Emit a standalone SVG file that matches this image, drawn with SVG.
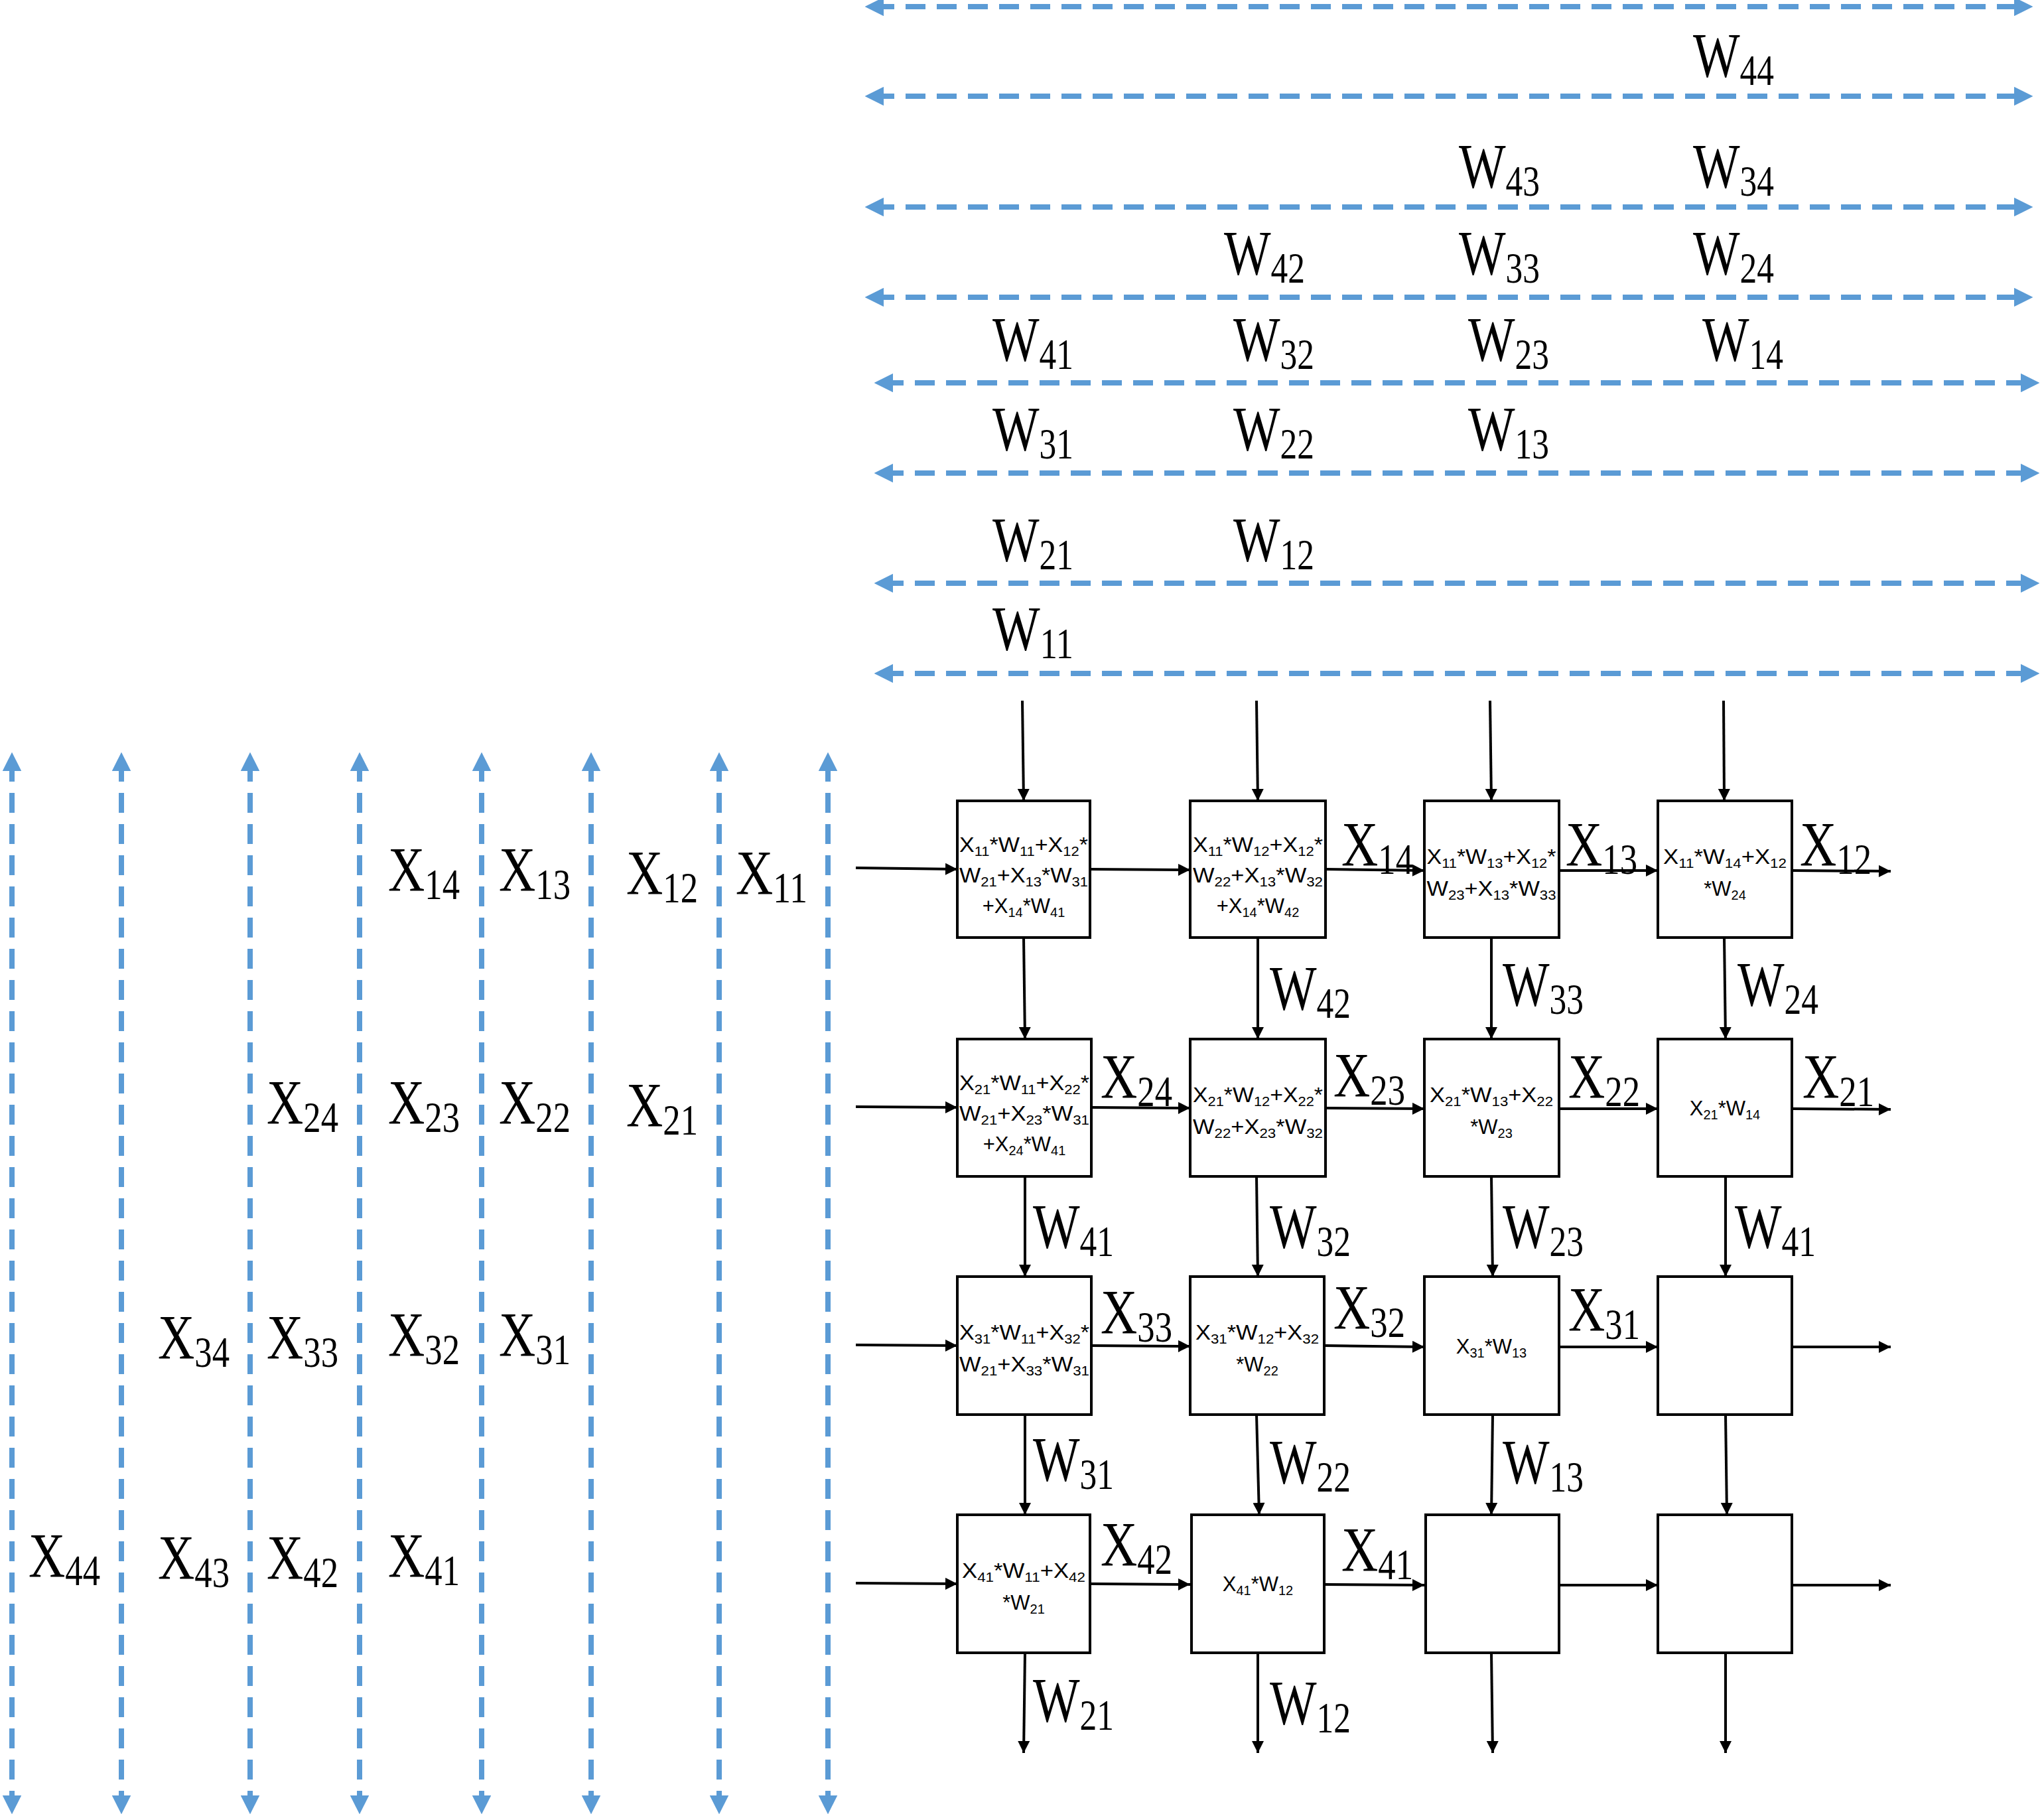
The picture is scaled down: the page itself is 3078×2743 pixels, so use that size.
<svg xmlns="http://www.w3.org/2000/svg" width="3078" height="2743" viewBox="0 0 3078 2743">
<style>
.bg{fill:#fff}
.dl{stroke:#5B9BD5;stroke-width:8;stroke-dasharray:30 17;fill:none;marker-start:url(#ba);marker-end:url(#ba)}
.ar{stroke:#000;stroke-width:4;fill:none;marker-end:url(#ka)}
.bx{fill:#fff;stroke:#000;stroke-width:4}
.L{font-family:"Liberation Serif","Times New Roman",serif;font-size:96px;fill:#000}
.sb{font-size:66px}
.T{font-family:"Liberation Sans",Arial,sans-serif;font-size:31px;fill:#000;text-anchor:middle}
.ts{font-size:20px}
</style>
<defs>
<marker id="ba" viewBox="0 0 10 10" refX="5" refY="5" markerWidth="3.6" markerHeight="3.6" orient="auto-start-reverse"><path d="M0,0L10,5L0,10z" fill="#5B9BD5"/></marker>
<marker id="ka" viewBox="0 0 10 10" refX="10" refY="5" markerWidth="5.5" markerHeight="4.5" orient="auto"><path d="M0,0L10,5L0,10z" fill="#000"/></marker>
</defs>
<rect class="bg" width="3078" height="2743"/>
<g id="connectors">
<line class="dl" x1="1318" y1="10" x2="3050" y2="10"/>
<line class="dl" x1="1318" y1="145" x2="3050" y2="145"/>
<line class="dl" x1="1318" y1="312" x2="3050" y2="312"/>
<line class="dl" x1="1318" y1="448" x2="3050" y2="448"/>
<line class="dl" x1="1332" y1="577" x2="3060" y2="577"/>
<line class="dl" x1="1332" y1="713" x2="3060" y2="713"/>
<line class="dl" x1="1332" y1="879" x2="3060" y2="879"/>
<line class="dl" x1="1332" y1="1015" x2="3060" y2="1015"/>
<line class="dl" x1="18" y1="1148" x2="18" y2="2720"/>
<line class="dl" x1="183" y1="1148" x2="183" y2="2720"/>
<line class="dl" x1="377" y1="1148" x2="377" y2="2720"/>
<line class="dl" x1="542" y1="1148" x2="542" y2="2720"/>
<line class="dl" x1="726" y1="1148" x2="726" y2="2720"/>
<line class="dl" x1="891" y1="1148" x2="891" y2="2720"/>
<line class="dl" x1="1084" y1="1148" x2="1084" y2="2720"/>
<line class="dl" x1="1248" y1="1148" x2="1248" y2="2720"/>
<line class="ar" x1="1541" y1="1056" x2="1543" y2="1207"/>
<line class="ar" x1="1894" y1="1056" x2="1896" y2="1207"/>
<line class="ar" x1="2246" y1="1056" x2="2248" y2="1207"/>
<line class="ar" x1="2598" y1="1056" x2="2599" y2="1207"/>
<line class="ar" x1="1543" y1="1413" x2="1545" y2="1566"/>
<line class="ar" x1="1896" y1="1413" x2="1896" y2="1566"/>
<line class="ar" x1="2248" y1="1413" x2="2248" y2="1566"/>
<line class="ar" x1="2599" y1="1413" x2="2601" y2="1566"/>
<line class="ar" x1="1545" y1="1773" x2="1545" y2="1924"/>
<line class="ar" x1="1894" y1="1773" x2="1896" y2="1924"/>
<line class="ar" x1="2248" y1="1773" x2="2250" y2="1924"/>
<line class="ar" x1="2601" y1="1773" x2="2601" y2="1924"/>
<line class="ar" x1="1545" y1="2132" x2="1545" y2="2283"/>
<line class="ar" x1="1894" y1="2132" x2="1898" y2="2283"/>
<line class="ar" x1="2250" y1="2132" x2="2248" y2="2283"/>
<line class="ar" x1="2601" y1="2132" x2="2603" y2="2283"/>
<line class="ar" x1="1545" y1="2491" x2="1543" y2="2642"/>
<line class="ar" x1="1896" y1="2491" x2="1896" y2="2642"/>
<line class="ar" x1="2248" y1="2491" x2="2250" y2="2642"/>
<line class="ar" x1="2601" y1="2491" x2="2601" y2="2642"/>
<line class="ar" x1="1290" y1="1308" x2="1443" y2="1310"/>
<line class="ar" x1="1643" y1="1310" x2="1794" y2="1311"/>
<line class="ar" x1="1998" y1="1310" x2="2147" y2="1312"/>
<line class="ar" x1="2350" y1="1312" x2="2499" y2="1312"/>
<line class="ar" x1="2701" y1="1312" x2="2850" y2="1313"/>
<line class="ar" x1="1290" y1="1668" x2="1443" y2="1669"/>
<line class="ar" x1="1645" y1="1669" x2="1794" y2="1670"/>
<line class="ar" x1="1998" y1="1670" x2="2147" y2="1671"/>
<line class="ar" x1="2350" y1="1671" x2="2499" y2="1671"/>
<line class="ar" x1="2701" y1="1671" x2="2850" y2="1672"/>
<line class="ar" x1="1290" y1="2027" x2="1443" y2="2028"/>
<line class="ar" x1="1645" y1="2028" x2="1794" y2="2029"/>
<line class="ar" x1="1998" y1="2028" x2="2147" y2="2030"/>
<line class="ar" x1="2350" y1="2030" x2="2499" y2="2030"/>
<line class="ar" x1="2701" y1="2030" x2="2850" y2="2030"/>
<line class="ar" x1="1290" y1="2386" x2="1443" y2="2387"/>
<line class="ar" x1="1643" y1="2387" x2="1794" y2="2388"/>
<line class="ar" x1="1996" y1="2388" x2="2147" y2="2389"/>
<line class="ar" x1="2350" y1="2389" x2="2499" y2="2389"/>
<line class="ar" x1="2701" y1="2389" x2="2850" y2="2389"/>
</g>
<g id="boxes">
<g id="n11"><rect class="bx" x="1443" y="1207" width="200" height="206"/>
<text class="T" x="1543" y="1284" textLength="194" lengthAdjust="spacingAndGlyphs">X<tspan class="ts" dy="6">11</tspan><tspan dy="-6">*W</tspan><tspan class="ts" dy="6">11</tspan><tspan dy="-6">+X</tspan><tspan class="ts" dy="6">12</tspan><tspan dy="-6">*</tspan></text>
<text class="T" x="1543" y="1330" textLength="194" lengthAdjust="spacingAndGlyphs">W<tspan class="ts" dy="6">21</tspan><tspan dy="-6">+X</tspan><tspan class="ts" dy="6">13</tspan><tspan dy="-6">*W</tspan><tspan class="ts" dy="6">31</tspan></text>
<text class="T" x="1543" y="1376">+X<tspan class="ts" dy="6">14</tspan><tspan dy="-6">*W</tspan><tspan class="ts" dy="6">41</tspan></text></g>
<g id="n12"><rect class="bx" x="1794" y="1207" width="204" height="206"/>
<text class="T" x="1896" y="1284" textLength="196" lengthAdjust="spacingAndGlyphs">X<tspan class="ts" dy="6">11</tspan><tspan dy="-6">*W</tspan><tspan class="ts" dy="6">12</tspan><tspan dy="-6">+X</tspan><tspan class="ts" dy="6">12</tspan><tspan dy="-6">*</tspan></text>
<text class="T" x="1896" y="1330" textLength="196" lengthAdjust="spacingAndGlyphs">W<tspan class="ts" dy="6">22</tspan><tspan dy="-6">+X</tspan><tspan class="ts" dy="6">13</tspan><tspan dy="-6">*W</tspan><tspan class="ts" dy="6">32</tspan></text>
<text class="T" x="1896" y="1376">+X<tspan class="ts" dy="6">14</tspan><tspan dy="-6">*W</tspan><tspan class="ts" dy="6">42</tspan></text></g>
<g id="n13"><rect class="bx" x="2147" y="1207" width="203" height="206"/>
<text class="T" x="2248" y="1302" textLength="195" lengthAdjust="spacingAndGlyphs">X<tspan class="ts" dy="6">11</tspan><tspan dy="-6">*W</tspan><tspan class="ts" dy="6">13</tspan><tspan dy="-6">+X</tspan><tspan class="ts" dy="6">12</tspan><tspan dy="-6">*</tspan></text>
<text class="T" x="2248" y="1350" textLength="195" lengthAdjust="spacingAndGlyphs">W<tspan class="ts" dy="6">23</tspan><tspan dy="-6">+X</tspan><tspan class="ts" dy="6">13</tspan><tspan dy="-6">*W</tspan><tspan class="ts" dy="6">33</tspan></text></g>
<g id="n14"><rect class="bx" x="2499" y="1207" width="202" height="206"/>
<text class="T" x="2600" y="1302" textLength="186" lengthAdjust="spacingAndGlyphs">X<tspan class="ts" dy="6">11</tspan><tspan dy="-6">*W</tspan><tspan class="ts" dy="6">14</tspan><tspan dy="-6">+X</tspan><tspan class="ts" dy="6">12</tspan></text>
<text class="T" x="2600" y="1350">*W<tspan class="ts" dy="6">24</tspan></text></g>
<g id="n21"><rect class="bx" x="1443" y="1566" width="202" height="207"/>
<text class="T" x="1544" y="1643" textLength="196" lengthAdjust="spacingAndGlyphs">X<tspan class="ts" dy="6">21</tspan><tspan dy="-6">*W</tspan><tspan class="ts" dy="6">11</tspan><tspan dy="-6">+X</tspan><tspan class="ts" dy="6">22</tspan><tspan dy="-6">*</tspan></text>
<text class="T" x="1544" y="1689" textLength="196" lengthAdjust="spacingAndGlyphs">W<tspan class="ts" dy="6">21</tspan><tspan dy="-6">+X</tspan><tspan class="ts" dy="6">23</tspan><tspan dy="-6">*W</tspan><tspan class="ts" dy="6">31</tspan></text>
<text class="T" x="1544" y="1735">+X<tspan class="ts" dy="6">24</tspan><tspan dy="-6">*W</tspan><tspan class="ts" dy="6">41</tspan></text></g>
<g id="n22"><rect class="bx" x="1794" y="1566" width="204" height="207"/>
<text class="T" x="1896" y="1661" textLength="196" lengthAdjust="spacingAndGlyphs">X<tspan class="ts" dy="6">21</tspan><tspan dy="-6">*W</tspan><tspan class="ts" dy="6">12</tspan><tspan dy="-6">+X</tspan><tspan class="ts" dy="6">22</tspan><tspan dy="-6">*</tspan></text>
<text class="T" x="1896" y="1709" textLength="196" lengthAdjust="spacingAndGlyphs">W<tspan class="ts" dy="6">22</tspan><tspan dy="-6">+X</tspan><tspan class="ts" dy="6">23</tspan><tspan dy="-6">*W</tspan><tspan class="ts" dy="6">32</tspan></text></g>
<g id="n23"><rect class="bx" x="2147" y="1566" width="203" height="207"/>
<text class="T" x="2248" y="1661" textLength="186" lengthAdjust="spacingAndGlyphs">X<tspan class="ts" dy="6">21</tspan><tspan dy="-6">*W</tspan><tspan class="ts" dy="6">13</tspan><tspan dy="-6">+X</tspan><tspan class="ts" dy="6">22</tspan></text>
<text class="T" x="2248" y="1709">*W<tspan class="ts" dy="6">23</tspan></text></g>
<g id="n24"><rect class="bx" x="2499" y="1566" width="202" height="207"/>
<text class="T" x="2600" y="1681">X<tspan class="ts" dy="6">21</tspan><tspan dy="-6">*W</tspan><tspan class="ts" dy="6">14</tspan></text></g>
<g id="n31"><rect class="bx" x="1443" y="1924" width="202" height="208"/>
<text class="T" x="1544" y="2019" textLength="196" lengthAdjust="spacingAndGlyphs">X<tspan class="ts" dy="6">31</tspan><tspan dy="-6">*W</tspan><tspan class="ts" dy="6">11</tspan><tspan dy="-6">+X</tspan><tspan class="ts" dy="6">32</tspan><tspan dy="-6">*</tspan></text>
<text class="T" x="1544" y="2067" textLength="196" lengthAdjust="spacingAndGlyphs">W<tspan class="ts" dy="6">21</tspan><tspan dy="-6">+X</tspan><tspan class="ts" dy="6">33</tspan><tspan dy="-6">*W</tspan><tspan class="ts" dy="6">31</tspan></text></g>
<g id="n32"><rect class="bx" x="1794" y="1924" width="202" height="208"/>
<text class="T" x="1895" y="2019" textLength="186" lengthAdjust="spacingAndGlyphs">X<tspan class="ts" dy="6">31</tspan><tspan dy="-6">*W</tspan><tspan class="ts" dy="6">12</tspan><tspan dy="-6">+X</tspan><tspan class="ts" dy="6">32</tspan></text>
<text class="T" x="1895" y="2067">*W<tspan class="ts" dy="6">22</tspan></text></g>
<g id="n33"><rect class="bx" x="2147" y="1924" width="203" height="208"/>
<text class="T" x="2248" y="2040">X<tspan class="ts" dy="6">31</tspan><tspan dy="-6">*W</tspan><tspan class="ts" dy="6">13</tspan></text></g>
<g id="n34"><rect class="bx" x="2499" y="1924" width="202" height="208"/></g>
<g id="n41"><rect class="bx" x="1443" y="2283" width="200" height="208"/>
<text class="T" x="1543" y="2378" textLength="186" lengthAdjust="spacingAndGlyphs">X<tspan class="ts" dy="6">41</tspan><tspan dy="-6">*W</tspan><tspan class="ts" dy="6">11</tspan><tspan dy="-6">+X</tspan><tspan class="ts" dy="6">42</tspan></text>
<text class="T" x="1543" y="2426">*W<tspan class="ts" dy="6">21</tspan></text></g>
<g id="n42"><rect class="bx" x="1796" y="2283" width="200" height="208"/>
<text class="T" x="1896" y="2398">X<tspan class="ts" dy="6">41</tspan><tspan dy="-6">*W</tspan><tspan class="ts" dy="6">12</tspan></text></g>
<g id="n43"><rect class="bx" x="2149" y="2283" width="201" height="208"/></g>
<g id="n44"><rect class="bx" x="2499" y="2283" width="202" height="208"/></g>
</g>
<g id="labels" transform="translate(0,10)">
<text class="L" x="2552" y="106" textLength="122" lengthAdjust="spacingAndGlyphs">W<tspan class="sb" dy="12">44</tspan></text>
<text class="L" x="2199" y="273" textLength="122" lengthAdjust="spacingAndGlyphs">W<tspan class="sb" dy="12">43</tspan></text>
<text class="L" x="2552" y="273" textLength="122" lengthAdjust="spacingAndGlyphs">W<tspan class="sb" dy="12">34</tspan></text>
<text class="L" x="1845" y="404" textLength="122" lengthAdjust="spacingAndGlyphs">W<tspan class="sb" dy="12">42</tspan></text>
<text class="L" x="2199" y="404" textLength="122" lengthAdjust="spacingAndGlyphs">W<tspan class="sb" dy="12">33</tspan></text>
<text class="L" x="2552" y="404" textLength="122" lengthAdjust="spacingAndGlyphs">W<tspan class="sb" dy="12">24</tspan></text>
<text class="L" x="1496" y="534" textLength="122" lengthAdjust="spacingAndGlyphs">W<tspan class="sb" dy="12">41</tspan></text>
<text class="L" x="1859" y="534" textLength="122" lengthAdjust="spacingAndGlyphs">W<tspan class="sb" dy="12">32</tspan></text>
<text class="L" x="2213" y="534" textLength="122" lengthAdjust="spacingAndGlyphs">W<tspan class="sb" dy="12">23</tspan></text>
<text class="L" x="2566" y="534" textLength="122" lengthAdjust="spacingAndGlyphs">W<tspan class="sb" dy="12">14</tspan></text>
<text class="L" x="1496" y="669" textLength="122" lengthAdjust="spacingAndGlyphs">W<tspan class="sb" dy="12">31</tspan></text>
<text class="L" x="1859" y="669" textLength="122" lengthAdjust="spacingAndGlyphs">W<tspan class="sb" dy="12">22</tspan></text>
<text class="L" x="2213" y="669" textLength="122" lengthAdjust="spacingAndGlyphs">W<tspan class="sb" dy="12">13</tspan></text>
<text class="L" x="1496" y="836" textLength="122" lengthAdjust="spacingAndGlyphs">W<tspan class="sb" dy="12">21</tspan></text>
<text class="L" x="1859" y="836" textLength="122" lengthAdjust="spacingAndGlyphs">W<tspan class="sb" dy="12">12</tspan></text>
<text class="L" x="1496" y="970" textLength="122" lengthAdjust="spacingAndGlyphs">W<tspan class="sb" dy="12">11</tspan></text>
<text class="L" x="585" y="1333" textLength="108" lengthAdjust="spacingAndGlyphs">X<tspan class="sb" dy="12">14</tspan></text>
<text class="L" x="752" y="1333" textLength="108" lengthAdjust="spacingAndGlyphs">X<tspan class="sb" dy="12">13</tspan></text>
<text class="L" x="944" y="1338" textLength="108" lengthAdjust="spacingAndGlyphs">X<tspan class="sb" dy="12">12</tspan></text>
<text class="L" x="1109" y="1338" textLength="108" lengthAdjust="spacingAndGlyphs">X<tspan class="sb" dy="12">11</tspan></text>
<text class="L" x="402" y="1684" textLength="108" lengthAdjust="spacingAndGlyphs">X<tspan class="sb" dy="12">24</tspan></text>
<text class="L" x="585" y="1684" textLength="108" lengthAdjust="spacingAndGlyphs">X<tspan class="sb" dy="12">23</tspan></text>
<text class="L" x="752" y="1684" textLength="108" lengthAdjust="spacingAndGlyphs">X<tspan class="sb" dy="12">22</tspan></text>
<text class="L" x="944" y="1688" textLength="108" lengthAdjust="spacingAndGlyphs">X<tspan class="sb" dy="12">21</tspan></text>
<text class="L" x="238" y="2038" textLength="108" lengthAdjust="spacingAndGlyphs">X<tspan class="sb" dy="12">34</tspan></text>
<text class="L" x="402" y="2038" textLength="108" lengthAdjust="spacingAndGlyphs">X<tspan class="sb" dy="12">33</tspan></text>
<text class="L" x="585" y="2034" textLength="108" lengthAdjust="spacingAndGlyphs">X<tspan class="sb" dy="12">32</tspan></text>
<text class="L" x="752" y="2034" textLength="108" lengthAdjust="spacingAndGlyphs">X<tspan class="sb" dy="12">31</tspan></text>
<text class="L" x="43" y="2367" textLength="108" lengthAdjust="spacingAndGlyphs">X<tspan class="sb" dy="12">44</tspan></text>
<text class="L" x="238" y="2370" textLength="108" lengthAdjust="spacingAndGlyphs">X<tspan class="sb" dy="12">43</tspan></text>
<text class="L" x="402" y="2370" textLength="108" lengthAdjust="spacingAndGlyphs">X<tspan class="sb" dy="12">42</tspan></text>
<text class="L" x="585" y="2367" textLength="108" lengthAdjust="spacingAndGlyphs">X<tspan class="sb" dy="12">41</tspan></text>
<text class="L" x="2022" y="1295" textLength="108" lengthAdjust="spacingAndGlyphs">X<tspan class="sb" dy="12">14</tspan></text>
<text class="L" x="2360" y="1295" textLength="108" lengthAdjust="spacingAndGlyphs">X<tspan class="sb" dy="12">13</tspan></text>
<text class="L" x="2713" y="1295" textLength="108" lengthAdjust="spacingAndGlyphs">X<tspan class="sb" dy="12">12</tspan></text>
<text class="L" x="1659" y="1645" textLength="108" lengthAdjust="spacingAndGlyphs">X<tspan class="sb" dy="12">24</tspan></text>
<text class="L" x="2010" y="1643" textLength="108" lengthAdjust="spacingAndGlyphs">X<tspan class="sb" dy="12">23</tspan></text>
<text class="L" x="2364" y="1645" textLength="108" lengthAdjust="spacingAndGlyphs">X<tspan class="sb" dy="12">22</tspan></text>
<text class="L" x="2717" y="1645" textLength="108" lengthAdjust="spacingAndGlyphs">X<tspan class="sb" dy="12">21</tspan></text>
<text class="L" x="1659" y="2000" textLength="108" lengthAdjust="spacingAndGlyphs">X<tspan class="sb" dy="12">33</tspan></text>
<text class="L" x="2010" y="1993" textLength="108" lengthAdjust="spacingAndGlyphs">X<tspan class="sb" dy="12">32</tspan></text>
<text class="L" x="2364" y="1996" textLength="108" lengthAdjust="spacingAndGlyphs">X<tspan class="sb" dy="12">31</tspan></text>
<text class="L" x="1659" y="2350" textLength="108" lengthAdjust="spacingAndGlyphs">X<tspan class="sb" dy="12">42</tspan></text>
<text class="L" x="2022" y="2358" textLength="108" lengthAdjust="spacingAndGlyphs">X<tspan class="sb" dy="12">41</tspan></text>
<text class="L" x="1914" y="1512" textLength="122" lengthAdjust="spacingAndGlyphs">W<tspan class="sb" dy="12">42</tspan></text>
<text class="L" x="2265" y="1506" textLength="122" lengthAdjust="spacingAndGlyphs">W<tspan class="sb" dy="12">33</tspan></text>
<text class="L" x="2619" y="1506" textLength="122" lengthAdjust="spacingAndGlyphs">W<tspan class="sb" dy="12">24</tspan></text>
<text class="L" x="1557" y="1871" textLength="122" lengthAdjust="spacingAndGlyphs">W<tspan class="sb" dy="12">41</tspan></text>
<text class="L" x="1914" y="1871" textLength="122" lengthAdjust="spacingAndGlyphs">W<tspan class="sb" dy="12">32</tspan></text>
<text class="L" x="2265" y="1871" textLength="122" lengthAdjust="spacingAndGlyphs">W<tspan class="sb" dy="12">23</tspan></text>
<text class="L" x="2615" y="1871" textLength="122" lengthAdjust="spacingAndGlyphs">W<tspan class="sb" dy="12">41</tspan></text>
<text class="L" x="1557" y="2222" textLength="122" lengthAdjust="spacingAndGlyphs">W<tspan class="sb" dy="12">31</tspan></text>
<text class="L" x="1914" y="2226" textLength="122" lengthAdjust="spacingAndGlyphs">W<tspan class="sb" dy="12">22</tspan></text>
<text class="L" x="2265" y="2226" textLength="122" lengthAdjust="spacingAndGlyphs">W<tspan class="sb" dy="12">13</tspan></text>
<text class="L" x="1557" y="2585" textLength="122" lengthAdjust="spacingAndGlyphs">W<tspan class="sb" dy="12">21</tspan></text>
<text class="L" x="1914" y="2589" textLength="122" lengthAdjust="spacingAndGlyphs">W<tspan class="sb" dy="12">12</tspan></text>
</g>
</svg>
